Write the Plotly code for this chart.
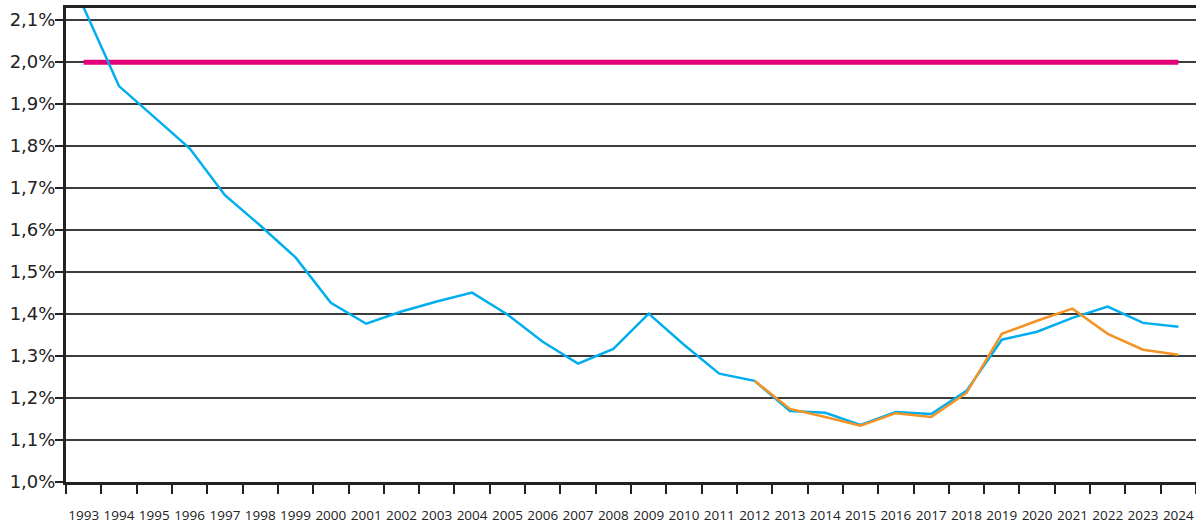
import plotly.graph_objects as go

years = [str(y) for y in range(1993, 2025)]

series_blue = [2.13, 1.943, 1.869, 1.795, 1.683, 1.611, 1.535, 1.427, 1.377, 1.406,
               1.430, 1.451, 1.399, 1.334, 1.282, 1.317, 1.401, 1.327, 1.258, 1.241,
               1.169, 1.165, 1.136, 1.167, 1.162, 1.217, 1.339, 1.358, 1.391, 1.418,
               1.379, 1.370]

orange_years = [str(y) for y in range(2012, 2025)]
series_orange = [1.241, 1.174, 1.155, 1.134, 1.164, 1.155, 1.212, 1.353, 1.384, 1.413,
                 1.353, 1.315, 1.303]

target_years = ["1993", "2024"]
target_values = [2.0, 2.0]

y_tickvals = [1.0, 1.1, 1.2, 1.3, 1.4, 1.5, 1.6, 1.7, 1.8, 1.9, 2.0, 2.1]
y_ticktext = ["1,0%", "1,1%", "1,2%", "1,3%", "1,4%", "1,5%", "1,6%", "1,7%",
              "1,8%", "1,9%", "2,0%", "2,1%"]

fig = go.Figure()
fig.add_trace(go.Scatter(x=target_years, y=target_values, mode="lines",
                         line=dict(color="#E2007A", width=5), hoverinfo="skip",
                         showlegend=False))
fig.add_trace(go.Scatter(x=years, y=series_blue, mode="lines",
                         line=dict(color="#00AEEF", width=2.5), showlegend=False))
fig.add_trace(go.Scatter(x=orange_years, y=series_orange, mode="lines",
                         line=dict(color="#F39325", width=2.5), showlegend=False))

fig.update_layout(
    width=1196, height=523,
    margin=dict(l=66, r=0, t=8, b=41),
    paper_bgcolor="white", plot_bgcolor="white",
    font=dict(family="Open Sans", color="#222222"),
    showlegend=False,
)
fig.update_xaxes(
    type="category", categoryorder="array", categoryarray=years,
    range=[-0.5, 31.5], automargin=False,
    tickson="boundaries", ticks="outside", ticklen=9, tickwidth=1.5, tickcolor="#222222",
    showgrid=False, showline=True, linewidth=3, linecolor="#222222", mirror=True,
    tickfont=dict(family="Open Sans", size=13.5, color="#222222"),
    tickangle=0,
    ticklabelstandoff=19,
    fixedrange=True,
)
fig.update_yaxes(
    range=[1.0, 2.129], automargin=False,
    tickmode="array", tickvals=y_tickvals, ticktext=y_ticktext,
    ticks="outside", ticklen=8, tickwidth=1.5, tickcolor="#222222",
    showgrid=True, gridcolor="#3c3c3c", gridwidth=1.5,
    showline=True, linewidth=3, linecolor="#222222",
    zeroline=False,
    tickfont=dict(family="DejaVu Sans", size=18, color="#222222"),
    ticklabelstandoff=-4,
    fixedrange=True,
)

fig.write_html(
    "out.html",
    config={"displayModeBar": False},
    post_script="document.body.style.margin='0';document.body.style.overflow='hidden';",
)
